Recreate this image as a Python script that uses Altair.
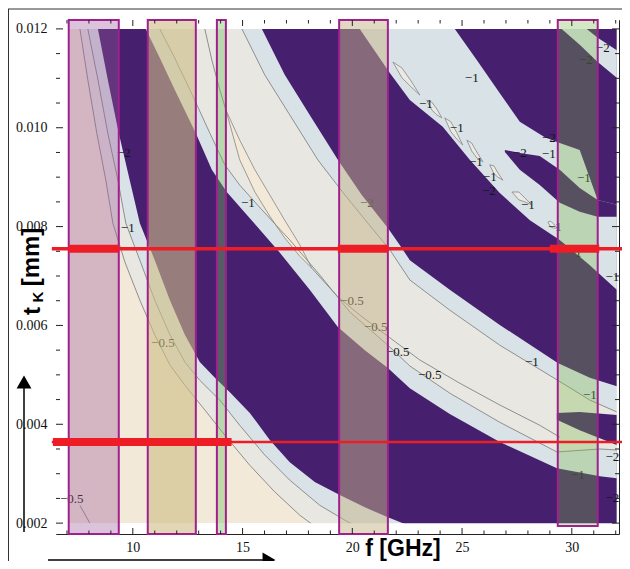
import altair as alt
import pandas as pd

# ---------------- axis ranges ----------------
F_DOMAIN = [6.5, 32.15]
T_DOMAIN = [0.00178, 0.01218]
DATA_F = [7.08, 32.05]
DATA_T = [0.002, 0.012]

X_LABELS = [10, 15, 20, 25, 30]
Y_LABELS = [0.002, 0.004, 0.006, 0.008, 0.010, 0.012]
X_MINOR = [7, 8, 9, 11, 12, 13, 14, 16, 17, 18, 19, 21, 22, 23, 24, 26, 27, 28, 29, 31, 32]
Y_MINOR = [0.0025, 0.003, 0.0035, 0.0045, 0.005, 0.0055, 0.0065, 0.007, 0.0075,
           0.0085, 0.009, 0.0095, 0.0105, 0.011, 0.0115]

# ---------------- contour band boundaries (f [GHz], tK [mm]) ----------------
b1_f = [7.59, 7.95, 8.36, 8.77, 9.09, 9.64, 10.32, 11.00, 11.69, 12.37, 13.28, 14.19, 15.33, 16.47, 17.61, 18.52, 32.05]
b1_t = [0.0120, 0.01097, 0.00989, 0.00894, 0.00807, 0.00728, 0.00651, 0.00581, 0.00520, 0.00479, 0.00429, 0.00378, 0.00317, 0.00263, 0.00216, 0.00186, 0.00125]

b2_f = [7.95, 8.41, 8.86, 9.32, 9.68, 10.32, 11.00, 11.69, 12.37, 13.05, 13.96, 14.87, 16.01, 17.15, 18.52, 19.66, 21.25, 32.05]
b2_t = [0.0120, 0.01097, 0.00989, 0.00894, 0.00807, 0.00732, 0.00651, 0.00581, 0.00526, 0.00489, 0.00449, 0.00398, 0.00338, 0.00287, 0.00236, 0.00206, 0.00166, 0.00085]

b3_f = [8.41, 8.86, 9.36, 9.86, 10.32, 11.00, 11.69, 12.37, 13.05, 13.74, 14.42, 15.33, 16.24, 17.15, 18.29, 19.43, 20.57, 21.62, 22.62, 32.05]
b3_t = [0.0120, 0.01097, 0.00989, 0.00894, 0.00807, 0.00732, 0.00651, 0.00581, 0.00526, 0.00494, 0.00465, 0.00423, 0.00368, 0.00323, 0.00283, 0.00257, 0.00232, 0.00212, 0.00194, 0.00125]

b4_f = [10.59, 11.23, 11.91, 12.87, 13.60, 14.28, 15.33, 16.70, 18.06, 19.34, 20.57, 21.62, 22.62, 24.44, 26.72, 29.32, 31.28, 32.05]
b4_t = [0.0120, 0.01141, 0.01077, 0.00989, 0.00915, 0.00870, 0.00817, 0.00747, 0.00672, 0.00597, 0.00550, 0.00514, 0.00473, 0.00421, 0.00364, 0.00311, 0.00295, 0.00291]

b5_f = [11.23, 11.91, 12.60, 13.51, 14.19, 14.87, 15.88, 17.15, 18.52, 19.89, 21.62, 22.62, 24.44, 26.72, 29.32, 31.28, 32.05]
b5_t = [0.0120, 0.01141, 0.01077, 0.00989, 0.00925, 0.00884, 0.00834, 0.00773, 0.00702, 0.00627, 0.00560, 0.00518, 0.00463, 0.00404, 0.00344, 0.00350, 0.00348]

b6_f = [14.97, 16.01, 17.15, 18.43, 19.66, 20.89, 21.71, 22.62, 24.44, 26.72, 29.36, 30.82, 32.05]
b6_t = [0.0120, 0.01107, 0.01026, 0.00935, 0.00864, 0.00797, 0.00753, 0.00692, 0.00631, 0.00560, 0.00489, 0.00449, 0.00425]

b7_f = [15.88, 16.92, 18.06, 19.34, 20.43, 21.62, 22.16, 22.62, 24.44, 26.72, 29.36, 30.82, 32.05]
b7_t = [0.0120, 0.01107, 0.01026, 0.00935, 0.00864, 0.00797, 0.00763, 0.00732, 0.00672, 0.00601, 0.00524, 0.00494, 0.00477]

b8_f = [20.34, 21.71, 22.62, 24.12, 25.35, 26.72, 28.09, 29.45, 30.82, 32.05]
b8_t = [0.0120, 0.01111, 0.01056, 0.01002, 0.00935, 0.00868, 0.00813, 0.00773, 0.00722, 0.00672]

b9_f = [24.67, 25.67, 26.72, 27.63, 28.77, 29.45, 30.36, 31.18, 32.05]
b9_t = [0.0120, 0.01137, 0.01070, 0.01012, 0.00981, 0.00969, 0.00955, 0.00854, 0.00844]

b10_f = [29.54, 30.36, 31.18, 32.05]
b10_t = [0.0120, 0.01168, 0.01133, 0.01101]

b11_f = [30.68, 31.18, 32.05]
b11_t = [0.0120, 0.01182, 0.01157]

# light (>-0.5) patch in the middle band
patch_f = [14.24, 14.87, 15.56, 16.24, 16.92, 17.61, 18.15]
patch_lo = [0.01036, 0.00935, 0.00870, 0.00821, 0.00777, 0.00740, 0.00716]
patch_hi = [0.01036, 0.00975, 0.00915, 0.00864, 0.00813, 0.00763, 0.00716]

# dark fingers
fing1_f = [29.32, 30.36, 32.05]
fing1_lo = [0.00409, 0.00388, 0.00358]
fing1_hi = [0.00423, 0.00425, 0.00419]
fing2_f = [26.95, 27.63, 28.54, 29.45, 30.36, 31.18, 32.05]
fing2_lo = [0.00951, 0.00915, 0.00884, 0.00848, 0.00830, 0.00820, 0.00820]
fing2_hi = [0.00955, 0.00949, 0.00943, 0.00915, 0.00878, 0.00854, 0.00844]

# grey islands between the 2nd and 3rd dark bands
isl_id = [1] * 4 + [2] * 4 + [3] * 4 + [4] * 4 + [5] * 4 + [6] * 4 + [7] * 4
isl_f = [21.85, 22.26, 22.67, 23.08, 23.39, 23.62, 23.85, 24.08, 24.21, 24.49, 24.76, 25.03,
         25.22, 25.44, 25.67, 25.95, 26.26, 26.45, 26.63, 26.86, 27.27, 27.59, 27.86, 28.18,
         28.91, 29.04, 29.18, 29.32]
isl_lo = [0.01133, 0.01101, 0.01083, 0.01066, 0.01056, 0.01036, 0.01026, 0.01020, 0.01020, 0.00992, 0.00977, 0.00965,
          0.00975, 0.00953, 0.00939, 0.00931, 0.00925, 0.00907, 0.00900, 0.00894, 0.00870, 0.00854, 0.00850, 0.00844,
          0.00809, 0.00799, 0.00797, 0.00797]
isl_hi = [0.01133, 0.01121, 0.01095, 0.01066, 0.01056, 0.01052, 0.01038, 0.01020, 0.01020, 0.01012, 0.00990, 0.00965,
          0.00975, 0.00969, 0.00951, 0.00931, 0.00925, 0.00923, 0.00909, 0.00894, 0.00870, 0.00870, 0.00858, 0.00844,
          0.00809, 0.00811, 0.00805, 0.00797]

# extra contour lines
c0_f = [7.59, 8.04]
c0_t = [0.00236, 0.00200]
cm1_f = [13.28, 13.60, 13.96, 14.24]
cm1_t = [0.0120, 0.01137, 0.01077, 0.01036]
cm2_f = [18.15, 19.34, 20.34, 21.71, 23.08, 24.90, 26.72, 28.54, 29.45]
cm2_t = [0.00716, 0.00658, 0.00621, 0.00575, 0.00530, 0.00483, 0.00439, 0.00398, 0.00374]

# contour labels
lab_f = [9.59, 9.77, 11.37, 15.24, 20.66, 19.98, 21.07, 22.07, 23.53, 28.18, 25.44, 23.35, 24.76, 25.63, 26.26, 26.22,
         28.00, 27.63, 28.95, 28.95, 31.41, 30.64, 30.55, 30.14, 29.23, 31.85, 30.27, 31.85, 31.85, 30.82, 7.22]
lab_t = [0.00949, 0.00797, 0.00564, 0.00848, 0.00848, 0.00649, 0.00597, 0.00546, 0.00500, 0.00526, 0.01101, 0.01048,
         0.01000, 0.00931, 0.00900, 0.00872, 0.00844, 0.00949, 0.00980, 0.00946, 0.01162, 0.01137, 0.00898, 0.00747,
         0.00799, 0.00698, 0.00297, 0.00334, 0.00251, 0.00459, 0.00249]
lab_txt = ["−2", "−1", "−0.5", "−1", "−2", "−0.5", "−0.5", "−0.5", "−0.5", "−1", "−1", "−1", "−1", "−1", "−1", "−2",
           "−1", "−2", "−2", "−1", "−2", "−2", "−1", "−1", "−1", "−1", "−1", "−2", "−2", "−1", "−0.5"]

# highlighted frequency windows
win_f1 = [7.08, 10.68, 13.83, 19.40, 29.36]
win_f2 = [9.36, 12.87, 14.24, 21.62, 31.18]
win_t1 = [0.00178, 0.00178, 0.00178, 0.00178, 0.00194]
win_t2 = [0.01218, 0.01218, 0.01218, 0.01218, 0.01218]
win_fill = ["#9a5c9c", "#cdbd84", "#6fbf5a", "#c6b488", "#7db846"]
win_op = [0.36, 0.6, 0.38, 0.5, 0.32]

# red thickness lines
red_t = [0.00755, 0.00364]
red_w = [3.5, 2.5]
red_f1 = 6.31
red_f2 = 32.41
thick_t = [0.00755, 0.00755, 0.00755, 0.00364]
thick_f1 = [7.08, 19.34, 29.0, 6.36]
thick_f2 = [9.36, 21.62, 31.25, 14.5]

BEIGE = "#f3e9d8"
GRAY = "#e8e7e1"
LBLUE = "#d9e3e7"
PURPLE = "#46206e"
LINE = "#858585"

XS = alt.Scale(domain=F_DOMAIN, nice=False, zero=False)
YS = alt.Scale(domain=T_DOMAIN, nice=False, zero=False)
AX = alt.Axis(values=X_LABELS, title="", ticks=False, tickSize=0, domain=False, grid=False, labelPadding=6,
              labelFont="Liberation Serif", labelFontSize=14, labelColor="#111")
AY = alt.Axis(values=Y_LABELS, format=".3f", title="", ticks=False, tickSize=0, domain=False, grid=False,
              labelPadding=9, labelFont="Liberation Serif", labelFontSize=14, labelColor="#111")
W, H = 563, 514


def X(field):
    return alt.X(field, scale=XS, axis=AX)


def Y(field):
    return alt.Y(field, scale=YS, axis=AY)


def band(fs, ts, color):
    df = pd.DataFrame({"f": fs, "t": ts, "top": DATA_T[1]})
    return alt.Chart(df).mark_area(color=color, clip=True).encode(x=X("f:Q"), y=Y("t:Q"), y2="top:Q")


def strip(fs, lo, hi, color, ids=None, stroke=None):
    df = pd.DataFrame({"f": fs, "lo": lo, "hi": hi, "id": ids if ids else [0] * len(fs)})
    kw = dict(color=color, clip=True)
    if stroke:
        kw.update(stroke=stroke, strokeWidth=0.8)
    return alt.Chart(df).mark_area(**kw).encode(x=X("f:Q"), y=Y("lo:Q"), y2="hi:Q", detail="id:N")


def cline(fs, ts):
    df = pd.DataFrame({"f": fs, "t": ts, "i": list(range(len(fs)))})
    return alt.Chart(df).mark_line(color=LINE, strokeWidth=0.9, clip=True).encode(
        x=X("f:Q"), y=Y("t:Q"), order="i:Q")


def rect(f1, f2, t1, t2, color):
    df = pd.DataFrame({"f1": f1, "f2": f2, "t1": t1, "t2": t2})
    return alt.Chart(df).mark_rect(color=color).encode(x=X("f1:Q"), x2="f2:Q", y=Y("t1:Q"), y2="t2:Q")


layers = [rect([DATA_F[0]], [DATA_F[1]], [DATA_T[0]], [DATA_T[1]], BEIGE),
          band(b1_f, b1_t, GRAY),
          band(b2_f, b2_t, LBLUE),
          band(b3_f, b3_t, PURPLE),
          band(b4_f, b4_t, LBLUE),
          band(b5_f, b5_t, GRAY),
          strip(patch_f, patch_lo, patch_hi, BEIGE, stroke=LINE),
          band(b6_f, b6_t, LBLUE),
          band(b7_f, b7_t, PURPLE),
          strip(fing1_f, fing1_lo, fing1_hi, PURPLE),
          band(b8_f, b8_t, LBLUE),
          strip(isl_f, isl_lo, isl_hi, "#ebe9e4", ids=isl_id, stroke=LINE),
          band(b9_f, b9_t, PURPLE),
          strip(fing2_f, fing2_lo, fing2_hi, PURPLE),
          band(b10_f, b10_t, LBLUE),
          band(b11_f, b11_t, PURPLE),
          cline(b1_f, b1_t), cline(b2_f, b2_t), cline(b5_f, b5_t), cline(b6_f, b6_t), cline(c0_f, c0_t),
          cline(cm1_f, cm1_t), cline(cm2_f, cm2_t),
          # white margins round the computed region
          rect([F_DOMAIN[0]], [DATA_F[0]], [T_DOMAIN[0]], [T_DOMAIN[1]], "white"),
          rect([F_DOMAIN[0]], [F_DOMAIN[1]], [T_DOMAIN[0]], [DATA_T[0]], "white"),
          rect([F_DOMAIN[0]], [F_DOMAIN[1]], [DATA_T[1]], [T_DOMAIN[1]], "white"),
          rect([DATA_F[1]], [F_DOMAIN[1]], [T_DOMAIN[0]], [T_DOMAIN[1]], "white"),
          ]

lab_df = pd.DataFrame({"f": lab_f, "t": lab_t, "txt": lab_txt})
layers.append(alt.Chart(lab_df).mark_text(font="Liberation Serif", fontSize=13, color="#151515").encode(
    x=X("f:Q"), y=Y("t:Q"), text="txt:N"))

win_df = pd.DataFrame({"f1": win_f1, "f2": win_f2, "t1": win_t1, "t2": win_t2, "c": win_fill, "o": win_op})
layers.append(alt.Chart(win_df).mark_rect().encode(
    x=X("f1:Q"), x2="f2:Q", y=Y("t1:Q"), y2="t2:Q",
    color=alt.Color("c:N", scale=None), opacity=alt.Opacity("o:Q", scale=None)))
layers.append(alt.Chart(win_df).mark_rect(fillOpacity=0, stroke="#a2208e", strokeWidth=2).encode(
    x=X("f1:Q"), x2="f2:Q", y=Y("t1:Q"), y2="t2:Q"))

red_df = pd.DataFrame({"t": red_t, "w": red_w, "f1": red_f1, "f2": red_f2})
layers.append(alt.Chart(red_df).mark_rule(color="#ee1c24").encode(
    x=X("f1:Q"), x2="f2:Q", y=Y("t:Q"), strokeWidth=alt.StrokeWidth("w:Q", scale=None)))
thick_df = pd.DataFrame({"t": thick_t, "f1": thick_f1, "f2": thick_f2})
layers.append(alt.Chart(thick_df).mark_rule(color="#ee1c24", strokeWidth=8).encode(
    x=X("f1:Q"), x2="f2:Q", y=Y("t:Q")))

# inward ticks on all four sides
TICK = "#222"
for vals, ln in ((X_LABELS, 6), (X_MINOR, 3.5)):
    d = pd.DataFrame({"v": vals})
    layers.append(alt.Chart(d).mark_rule(color=TICK, strokeWidth=1).encode(
        x=X("v:Q"), y=alt.value(H), y2=alt.value(H - ln)))
    layers.append(alt.Chart(d).mark_rule(color=TICK, strokeWidth=1).encode(
        x=X("v:Q"), y=alt.value(0), y2=alt.value(ln)))
for vals, ln in ((Y_LABELS, 7), (Y_MINOR, 4)):
    d = pd.DataFrame({"v": vals})
    layers.append(alt.Chart(d).mark_rule(color=TICK, strokeWidth=1).encode(
        y=Y("v:Q"), x=alt.value(0), x2=alt.value(ln)))
    layers.append(alt.Chart(d).mark_rule(color=TICK, strokeWidth=1).encode(
        y=Y("v:Q"), x=alt.value(W), x2=alt.value(W - ln)))

one = pd.DataFrame({"a": [0]})
# outer frame lines
layers.append(alt.Chart(one).mark_rule(color="#333", strokeWidth=1).encode(
    x=alt.value(-47.5), y=alt.value(-11), y2=alt.value(541)))
layers.append(alt.Chart(one).mark_rule(color="#333", strokeWidth=1).encode(
    x=alt.value(-48), x2=alt.value(566), y=alt.value(-11)))
# arrows
layers.append(alt.Chart(one).mark_rule(color="black", strokeWidth=1.5).encode(
    x=alt.value(-32), y=alt.value(512), y2=alt.value(365)))
layers.append(alt.Chart(one).mark_point(shape="triangle-up", filled=True, color="black", size=220, opacity=1).encode(
    x=alt.value(-32), y=alt.value(362)))
layers.append(alt.Chart(one).mark_rule(color="black", strokeWidth=1.5).encode(
    x=alt.value(-8), x2=alt.value(208), y=alt.value(540)))
layers.append(alt.Chart(one).mark_point(shape="triangle-right", filled=True, color="black", size=220, opacity=1).encode(
    x=alt.value(213), y=alt.value(540)))
# axis titles
layers.append(alt.Chart(one).mark_text(font="Liberation Sans", fontWeight="bold", fontSize=23, color="black",
                                       align="center", baseline="middle").encode(
    x=alt.value(347), y=alt.value(529), text=alt.value("f [GHz]")))
layers.append(alt.Chart(one).mark_text(font="Liberation Sans", fontWeight="bold", fontSize=24, color="black",
                                       align="center", baseline="middle", angle=270).encode(
    x=alt.value(-23), y=alt.value(291), text=alt.value("t")))
layers.append(alt.Chart(one).mark_text(font="Liberation Sans", fontWeight="bold", fontSize=15, color="black",
                                       align="center", baseline="middle", angle=270).encode(
    x=alt.value(-18), y=alt.value(277), text=alt.value("K")))
layers.append(alt.Chart(one).mark_text(font="Liberation Sans", fontWeight="bold", fontSize=24, color="black",
                                       align="center", baseline="middle", angle=270).encode(
    x=alt.value(-24), y=alt.value(237), text=alt.value("[mm]")))

chart = alt.layer(*layers).properties(
    width=W, height=H, autosize="none",
    padding={"left": 48, "top": 12, "right": 3, "bottom": 27}
).configure_view(stroke="#222", strokeWidth=1)

chart.save("out.html", embed_options={"renderer": "svg", "actions": False})
